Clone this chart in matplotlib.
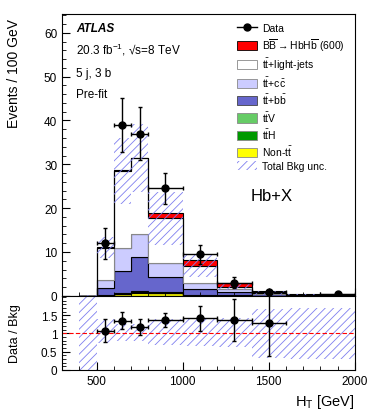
import numpy as np
import matplotlib
matplotlib.use("Agg")
import matplotlib.pyplot as plt
from matplotlib.patches import Patch
from matplotlib.lines import Line2D
from matplotlib.ticker import MultipleLocator

plt.rcParams['font.family'] = ['Liberation Sans', 'DejaVu Sans']
plt.rcParams['mathtext.fontset'] = 'custom'
plt.rcParams['mathtext.rm'] = 'Liberation Sans'
plt.rcParams['mathtext.it'] = 'Liberation Sans:italic'
plt.rcParams['mathtext.bf'] = 'Liberation Sans:bold'
plt.rcParams['hatch.linewidth'] = 0.6

# -------------------- Data (events / 100 GeV) --------------------
edges = np.array([400, 500, 600, 700, 800, 1000, 1200, 1400, 1600, 1800, 2000])

non_tt   = [0.0, 0.05, 0.35, 0.60, 0.60, 0.15, 0.05, 0.02, 0.01, 0.01]
tth      = [0.0, 0.02, 0.15, 0.30, 0.15, 0.08, 0.03, 0.01, 0.0, 0.0]
ttv      = [0.0, 0.02, 0.05, 0.10, 0.08, 0.04, 0.02, 0.01, 0.0, 0.0]
tt_bb    = [0.03, 1.66, 5.15, 7.80, 3.37, 1.33, 0.80, 0.31, 0.14, 0.14]
tt_cc    = [0.01, 1.95, 5.30, 5.40, 3.40, 1.30, 0.60, 0.15, 0.05, 0.05]
tt_light = [0.03, 7.30, 17.5, 17.2, 10.1, 3.90, 0.60, 0.15, 0.10, 0.10]
signal   = [0.0, 0.05, 0.10, 0.15, 1.20, 1.35, 0.80, 0.35, 0.05, 0.05]
bkg_unc  = [0.15, 2.40, 7.60, 7.80, 6.00, 2.50, 0.85, 0.43, 0.20, 0.20]

data_x    = [550, 650, 750, 900, 1100, 1300, 1500, 1900]
data_xerr = [50, 50, 50, 100, 100, 100, 100, 100]
data_y    = [12.0, 39.0, 37.0, 24.5, 9.5, 3.0, 0.8, 0.4]
data_yerr = [3.5, 6.2, 6.1, 3.5, 2.2, 1.2, 0.55, 0.45]

ratio_y   = [1.06, 1.34, 1.175, 1.36, 1.42, 1.37, 1.29, np.nan]
ratio_lo  = [0.30, 0.22, 0.215, 0.18, 0.34, 0.58, 0.92, 0.0]
ratio_hi  = [0.33, 0.24, 0.215, 0.21, 0.34, 0.57, 0.92, 0.0]
ratio_band_lo = [0.0, 0.74, 0.79, 0.79, 0.69, 0.65, 0.62, 0.32, 0.30, 0.30]
ratio_band_hi = [2.0, 1.39, 1.27, 1.27, 1.39, 1.43, 1.43, 1.67, 1.69, 1.69]

components = [
    (non_tt,   '#ffff00', 'black'),
    (tth,      '#009900', 'black'),
    (ttv,      '#66cc66', 'black'),
    (tt_bb,    '#6666cc', 'black'),
    (tt_cc,    '#ccccff', 'black'),
    (tt_light, '#ffffff', '#888888'),
    (signal,   '#ff0000', 'black'),
]
hatch_col = '#7f7fef'

# -------------------- Figure --------------------
fig = plt.figure(figsize=(3.74, 4.14), dpi=100)
ax = fig.add_axes([0.166, 0.283, 0.783, 0.681])
axr = fig.add_axes([0.166, 0.104, 0.783, 0.179], sharex=ax)

bottom = np.zeros(len(edges) - 1)
for vals, fc, ec in components:
    vals = np.asarray(vals)
    ax.stairs(bottom + vals, edges, baseline=bottom, fill=True,
              facecolor=fc, edgecolor=ec, linewidth=0.8)
    bottom = bottom + vals

bkg_tot = np.asarray(non_tt) + np.asarray(tth) + np.asarray(ttv) + \
    np.asarray(tt_bb) + np.asarray(tt_cc) + np.asarray(tt_light)
unc = np.asarray(bkg_unc)
ax.bar(edges[:-1], 2 * unc, width=np.diff(edges), bottom=bkg_tot - unc,
       align='edge', facecolor='none', edgecolor=hatch_col, hatch='////',
       linewidth=0)

ax.errorbar(data_x, data_y, xerr=data_xerr, yerr=data_yerr, fmt='o',
            color='black', markersize=5, elinewidth=1.0, capsize=1.5, zorder=5)

ax.set_xlim(300, 2000)
ax.set_ylim(0, 64.3)
ax.yaxis.set_major_locator(MultipleLocator(10))
ax.yaxis.set_minor_locator(MultipleLocator(2))
ax.xaxis.set_major_locator(MultipleLocator(500))
ax.xaxis.set_minor_locator(MultipleLocator(100))
ax.tick_params(axis='both', which='both', direction='in', labelsize=8.5)
ax.tick_params(axis='both', which='major', length=6)
ax.tick_params(axis='both', which='minor', length=3)
ax.tick_params(axis='x', labelbottom=False)
ax.set_ylabel('Events / 100 GeV', fontsize=10, loc='top')
ax.yaxis.set_label_coords(-0.14, 0.985)

# labels
ax.text(0.048, 0.95, 'ATLAS', transform=ax.transAxes, fontsize=8.5,
        fontweight='bold', fontstyle='italic', va='center')
ax.text(0.048, 0.876, '20.3 fb$^{-1}$, \u221as=8 TeV', transform=ax.transAxes,
        fontsize=8.5, va='center')
ax.text(0.048, 0.79, '5 j, 3 b', transform=ax.transAxes, fontsize=8.5, va='center')
ax.text(0.048, 0.716, 'Pre-fit', transform=ax.transAxes, fontsize=8.5, va='center')
ax.text(0.717, 0.355, 'Hb+X', transform=ax.transAxes, fontsize=12,
        ha='center', va='center')

handles = [
    Line2D([], [], color='black', marker='o', markersize=5, linewidth=1),
    Patch(facecolor='#ff0000', edgecolor='black', linewidth=0.6),
    Patch(facecolor='#ffffff', edgecolor='#888888', linewidth=0.6),
    Patch(facecolor='#ccccff', edgecolor='#888888', linewidth=0.6),
    Patch(facecolor='#6666cc', edgecolor='#444444', linewidth=0.6),
    Patch(facecolor='#66cc66', edgecolor='#888888', linewidth=0.6),
    Patch(facecolor='#009900', edgecolor='#888888', linewidth=0.6),
    Patch(facecolor='#ffff00', edgecolor='#888888', linewidth=0.6),
    Patch(facecolor='none', edgecolor=hatch_col, hatch='////', linewidth=0),
]
labels = [
    'Data',
    r'$\mathrm{B\overline{B}}\rightarrow\mathrm{HbH\overline{b}}$ (600)',
    r'$\mathrm{t\bar{t}}$+light-jets',
    r'$\mathrm{t\bar{t}}$+$\mathrm{c\bar{c}}$',
    r'$\mathrm{t\bar{t}}$+$\mathrm{b\bar{b}}$',
    r'$\mathrm{t\bar{t}V}$',
    r'$\mathrm{t\bar{t}H}$',
    r'Non-$\mathrm{t\bar{t}}$',
    'Total Bkg unc.',
]
ax.legend(handles, labels, loc='upper left', bbox_to_anchor=(0.597, 0.968),
          frameon=False, fontsize=7.5, handlelength=1.95, handleheight=1.0,
          handletextpad=0.5, labelspacing=0.3, borderpad=0, borderaxespad=0)

# -------------------- Ratio panel --------------------
axr.bar(edges[:-1], np.asarray(ratio_band_hi) - np.asarray(ratio_band_lo),
        width=np.diff(edges), bottom=ratio_band_lo, align='edge',
        facecolor='none', edgecolor=hatch_col, hatch='////', linewidth=0)
axr.axhline(1.0, color='red', linestyle=(0, (4, 2)), linewidth=0.8)
axr.errorbar(data_x, ratio_y, xerr=data_xerr, yerr=[ratio_lo, ratio_hi],
             fmt='o', color='black', markersize=5, elinewidth=1.0,
             capsize=1.5, zorder=5)
axr.set_ylim(0, 2.03)
axr.set_yticks([0, 0.5, 1, 1.5])
axr.set_yticklabels(['0', '0.5', '1', '1.5'])
axr.yaxis.set_minor_locator(MultipleLocator(0.1))
axr.tick_params(axis='both', which='both', direction='in', labelsize=8.5)
axr.tick_params(axis='both', which='major', length=6)
axr.tick_params(axis='both', which='minor', length=3)
axr.set_ylabel('Data / Bkg', fontsize=9)
axr.yaxis.set_label_coords(-0.14, 0.5)
axr.set_xlabel(r'$\mathrm{H_T}$ [GeV]', fontsize=10.5, loc='right')
axr.xaxis.set_label_coords(1.0, -0.3)

fig.savefig('out.png', dpi=100)
